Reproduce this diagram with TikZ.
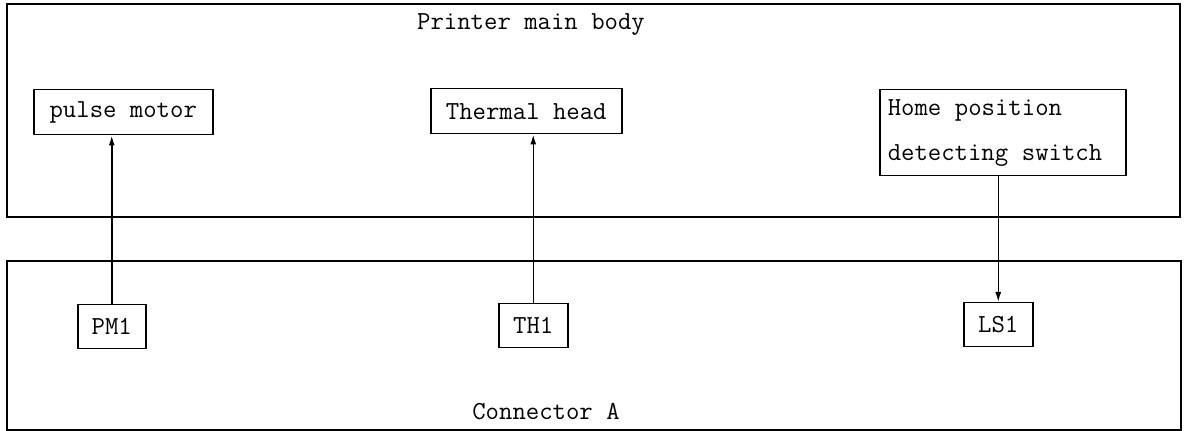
\documentclass[tikz,border=0pt]{standalone}
\usetikzlibrary{arrows.meta}
\begin{document}
\begin{tikzpicture}[x=0.5pt,y=-0.5pt,
  every node/.style={font=\ttfamily\fontsize{13}{22.5}\selectfont},
  frame/.style={draw,line width=0.8pt},
  blk/.style={draw,line width=0.75pt,inner sep=0pt,anchor=north west},
  wire/.style={line width=0.75pt},
  tip/.style={-{Latex[length=5pt,width=3pt]}}]
\useasboundingbox (0,0) rectangle (1185,431);
% outer frames
\draw[frame] (7,4) rectangle (1180,217);
\draw[frame] (7,261) rectangle (1181,430);
\node[anchor=base] (title) at (531,30) {Printer main body};
\node[anchor=base] (conn) at (546,420) {Connector A};
% component boxes
\node[blk,minimum width=89.5pt,minimum height=22.5pt] (pm) at (33,89) {pulse motor};
\node[blk,minimum width=95.5pt,minimum height=22.5pt] (th) at (430,88) {Thermal head};
\node[blk,minimum width=123pt,minimum height=43pt,align=left,text width=115pt] (hp) at (879,89) {\spaceskip=0.525em\relax Home position\\detecting switch};
% connector pins
\node[blk,minimum width=34pt,minimum height=22pt] (pm1) at (77,304) {PM1};
\node[blk,minimum width=34.5pt,minimum height=22pt] (th1) at (498,303) {TH1};
\node[blk,minimum width=34.5pt,minimum height=22pt] (ls1) at (963,302) {LS1};
% wires
\draw[wire,tip] (pm1.north) -- (pm1.north |- pm.south);
\draw[wire,tip] (th1.north) -- (th1.north |- th.south);
\draw[wire,tip] (ls1.north |- hp.south) -- (ls1.north);
\end{tikzpicture}
\end{document}
